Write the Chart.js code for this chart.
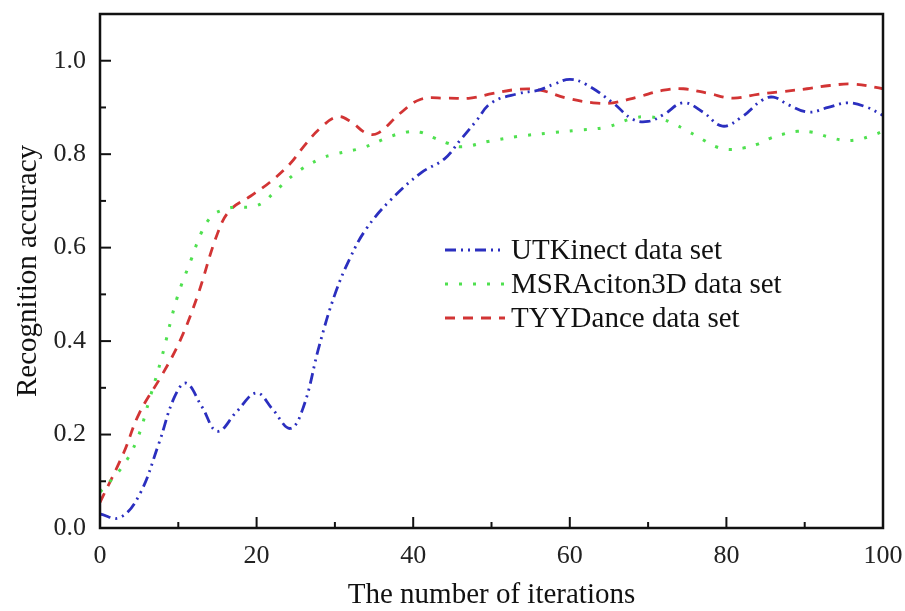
<!DOCTYPE html>
<html>
<head>
<meta charset="utf-8">
<script src="https://cdn.jsdelivr.net/npm/chart.js@4.4.1/dist/chart.umd.min.js"></script>
<style>
  html, body { margin: 0; padding: 0; background: #fff; }
  #wrap { width: 905px; height: 611px; }
</style>
</head>
<body>
<div id="wrap"><canvas id="accChart" width="905" height="611"></canvas></div>
<script>
// === data ===
const utkX = [0, 2.5, 5, 7.5, 9.5, 11, 13, 15, 17.5, 20, 22, 24.3, 26, 28, 30, 32, 34, 37, 41, 44, 46, 48, 50, 53.5, 56, 58, 60, 62, 65.5, 68, 70, 72, 74.5, 77, 79.5, 82, 84.5, 86, 88, 90.5, 93, 95.5, 98, 100];
const utkY = [0.03, 0.022, 0.07, 0.18, 0.28, 0.31, 0.26, 0.207, 0.25, 0.289, 0.255, 0.213, 0.26, 0.39, 0.50, 0.58, 0.64, 0.70, 0.76, 0.79, 0.83, 0.87, 0.91, 0.93, 0.937, 0.95, 0.96, 0.95, 0.91, 0.875, 0.87, 0.885, 0.91, 0.89, 0.86, 0.88, 0.915, 0.922, 0.905, 0.89, 0.9, 0.91, 0.9, 0.883];

const msrX = [0, 2.8, 4.7, 6.4, 7.9, 9.8, 11.7, 13, 14.3, 15.6, 17.2, 19.2, 20.8, 22.1, 24.9, 28.1, 30, 33.6, 36.8, 39, 40.9, 42.5, 44.3, 46.2, 49.8, 53.4, 57.2, 60.9, 64.7, 68.1, 70, 71.8, 73.4, 75.1, 76.9, 78.5, 80.2, 82.1, 83.9, 85.6, 87.5, 89.1, 91, 92.8, 94.8, 96.4, 98.3, 100];
const msrY = [0.077, 0.13, 0.188, 0.28, 0.366, 0.49, 0.577, 0.634, 0.668, 0.68, 0.687, 0.687, 0.696, 0.716, 0.758, 0.79, 0.80, 0.814, 0.836, 0.847, 0.847, 0.836, 0.824, 0.816, 0.828, 0.838, 0.845, 0.851, 0.858, 0.877, 0.88, 0.875, 0.864, 0.849, 0.832, 0.817, 0.81, 0.813, 0.821, 0.834, 0.844, 0.849, 0.847, 0.838, 0.83, 0.83, 0.838, 0.849];

const tyyX = [0, 3, 5, 8, 10.2, 12.4, 15, 16.6, 19.2, 21.7, 24.3, 26, 28.1, 30.3, 32, 34, 35.5, 38.3, 40.9, 44.3, 47.3, 50.2, 53.6, 56.2, 59.6, 63, 65.5, 68.6, 72, 74.5, 77.7, 80.8, 84, 87.2, 90.3, 93.2, 96.2, 100];
const tyyY = [0.055, 0.16, 0.245, 0.33, 0.40, 0.494, 0.63, 0.68, 0.71, 0.74, 0.78, 0.816, 0.855, 0.88, 0.87, 0.845, 0.845, 0.887, 0.917, 0.92, 0.92, 0.93, 0.939, 0.937, 0.92, 0.91, 0.91, 0.922, 0.937, 0.94, 0.93, 0.92, 0.928, 0.934, 0.94, 0.947, 0.95, 0.94];

const seriesNames = ['UTKinect data set', 'MSRAciton3D data set', 'TYYDance data set'];
const xTitle = 'The number of iterations';
const yTitle = 'Recognition accuracy';

const serif = '"Liberation Serif", "Times New Roman", serif';

function pts(xs, ys) { return xs.map((x, i) => ({x: x, y: ys[i]})); }

// box round the plot + inward ticks (major and minor)
const frameTicks = {
  id: 'frameTicks',
  afterDraw(chart) {
    const {ctx, chartArea: a, scales} = chart;
    ctx.save();
    ctx.strokeStyle = '#111';
    ctx.lineWidth = 2;
    const xs = scales.x, ys = scales.y;
    xs.ticks.forEach(t => {
      const px = xs.getPixelForValue(t.value);
      ctx.beginPath(); ctx.moveTo(px, a.bottom); ctx.lineTo(px, a.bottom - 11); ctx.stroke();
      if (t.value + 10 < xs.max) {
        const pm = xs.getPixelForValue(t.value + 10);
        ctx.beginPath(); ctx.moveTo(pm, a.bottom); ctx.lineTo(pm, a.bottom - 6); ctx.stroke();
      }
    });
    ys.ticks.forEach(t => {
      const py = ys.getPixelForValue(t.value);
      ctx.beginPath(); ctx.moveTo(a.left, py); ctx.lineTo(a.left + 11, py); ctx.stroke();
      if (t.value + 0.1 < ys.max) {
        const pm = ys.getPixelForValue(t.value + 0.1);
        ctx.beginPath(); ctx.moveTo(a.left, pm); ctx.lineTo(a.left + 6, pm); ctx.stroke();
      }
    });
    ctx.lineWidth = 2.5;
    ctx.strokeRect(a.left, a.top, a.right - a.left, a.bottom - a.top);
    ctx.restore();
  }
};

// legend drawn inside the plot area
const innerLegend = {
  id: 'innerLegend',
  afterDatasetsDraw(chart, args, opts) {
    const {ctx} = chart;
    ctx.save();
    ctx.font = opts.fontSize + 'px ' + serif;
    ctx.textBaseline = 'middle';
    ctx.fillStyle = '#111';
    chart.data.datasets.forEach((ds, i) => {
      const y = opts.y + i * opts.rowGap;
      ctx.beginPath();
      ctx.strokeStyle = ds.borderColor;
      ctx.lineWidth = ds.borderWidth;
      ctx.setLineDash(ds.borderDash);
      ctx.moveTo(opts.x, y);
      ctx.lineTo(opts.x + opts.lineLen, y);
      ctx.stroke();
      ctx.setLineDash([]);
      ctx.fillText(ds.label, opts.x + opts.lineLen + 6, y + 1);
    });
    ctx.restore();
  }
};

const ctx = document.getElementById('accChart').getContext('2d');
new Chart(ctx, {
  type: 'line',
  data: {
    datasets: [
      { label: seriesNames[0], data: pts(utkX, utkY), borderColor: '#2b2fbf', borderWidth: 2.8, borderDash: [11, 5, 2, 5, 2, 5] },
      { label: seriesNames[1], data: pts(msrX, msrY), borderColor: '#4fe04f', borderWidth: 3, borderDash: [3, 11] },
      { label: seriesNames[2], data: pts(tyyX, tyyY), borderColor: '#d23434', borderWidth: 2.8, borderDash: [10, 8] }
    ]
  },
  options: {
    responsive: false,
    animation: false,
    elements: { point: { radius: 0 }, line: { tension: 0.4, fill: false } },
    layout: { padding: { top: 14, right: 22, left: 0, bottom: 0 } },
    plugins: {
      legend: { display: false },
      tooltip: { enabled: false },
      innerLegend: { x: 445, y: 250, rowGap: 34, lineLen: 60, fontSize: 29 }
    },
    scales: {
      x: {
        type: 'linear', min: 0, max: 100,
        ticks: { stepSize: 20, color: '#222', padding: 5, font: { family: serif, size: 26 } },
        grid: { display: false },
        border: { display: false },
        title: { display: true, text: xTitle, color: '#111', font: { family: serif, size: 29 }, padding: { top: 0, bottom: -2 } },
        afterFit(s) { s.height = 83; s.paddingLeft = 0; s.paddingRight = 0; }
      },
      y: {
        type: 'linear', min: 0, max: 1.1,
        afterBuildTicks(s) { s.ticks = s.ticks.filter(t => t.value <= 1.0001); },
        ticks: { stepSize: 0.2, color: '#222', padding: 6, font: { family: serif, size: 26 },
                 callback: v => v.toFixed(1) },
        grid: { display: false },
        border: { display: false },
        title: { display: true, text: yTitle, color: '#111', font: { family: serif, size: 29 }, padding: { top: 11, bottom: 0 } },
        afterFit(s) { s.width = 100; s.paddingTop = 0; s.paddingBottom = 0; }
      }
    }
  },
  plugins: [frameTicks, innerLegend]
});
</script>
</body>
</html>
